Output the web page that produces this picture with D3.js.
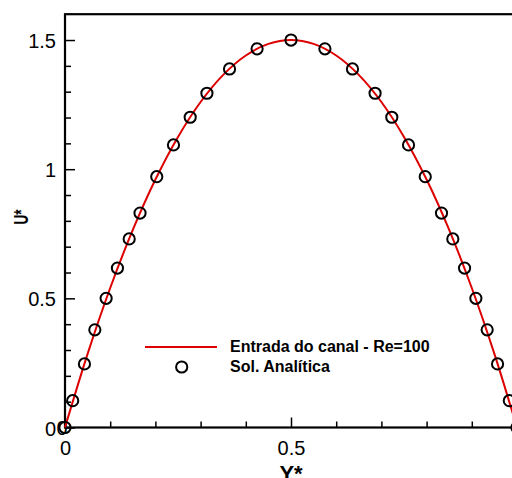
<!DOCTYPE html>
<html>
<head>
<meta charset="utf-8">
<script src="https://cdn.jsdelivr.net/npm/d3@7"></script>
<style>
  body { margin: 0; background: #fff; }
  svg { display: block; font-family: "Liberation Sans", Arial, sans-serif; }
</style>
</head>
<body>
<div id="chart"></div>
<script>
// Sol. Analítica - circles (Y*, U*)
const yAnalytic = [0, 0.017, 0.043, 0.066, 0.091, 0.116, 0.142, 0.166, 0.203, 0.240, 0.277, 0.314, 0.364, 0.425, 0.5,
                   0.575, 0.636, 0.686, 0.723, 0.760, 0.797, 0.833, 0.858, 0.884, 0.909, 0.934, 0.957, 0.983, 1];
const uAnalytic = [0, 0.104, 0.246, 0.378, 0.500, 0.617, 0.730, 0.830, 0.971, 1.094, 1.201, 1.294, 1.388, 1.466, 1.5,
                   1.466, 1.388, 1.294, 1.201, 1.094, 0.971, 0.830, 0.730, 0.617, 0.500, 0.378, 0.246, 0.104, 0];

// Entrada do canal - Re=100 - red line
const yLine = [0, 0.05, 0.1, 0.15, 0.2, 0.25, 0.3, 0.35, 0.4, 0.45, 0.5, 0.55, 0.6, 0.65, 0.7, 0.75, 0.8, 0.85, 0.9, 0.95, 1];
const uLine = [0, 0.285, 0.54, 0.765, 0.96, 1.125, 1.26, 1.365, 1.44, 1.485, 1.5, 1.485, 1.44, 1.365, 1.26, 1.125, 0.96, 0.765, 0.54, 0.285, 0];

// x = 1 sits just past the right edge of the picture, so only 0 and 0.5 are labelled
const xTicks = [0, 0.5];
const yTicks = [0, 0.5, 1, 1.5];
const xMinor = [0.1, 0.2, 0.3, 0.4, 0.6, 0.7, 0.8, 0.9];
const yMinor = [0.1, 0.2, 0.3, 0.4, 0.6, 0.7, 0.8, 0.9, 1.1, 1.2, 1.3, 1.4];
const seriesNames = ["Entrada do canal - Re=100", "Sol. Analítica"];

const width = 512, height = 478;
const red = "#dd0000";

const svg = d3.select("#chart").append("svg")
    .attr("width", width)
    .attr("height", height);

// plot area runs past the right edge of the picture, as in the original
const x = d3.scaleLinear().domain([0, 1]).range([65, 517]);
const y = d3.scaleLinear().domain([0, 1.6]).range([427.5, 14.2]);

// minor ticks
svg.append("g")
    .attr("transform", `translate(0,${y(0)})`)
    .call(d3.axisBottom(x).tickValues(xMinor).tickSizeInner(-6).tickSizeOuter(0).tickFormat(""))
    .call(g => g.select(".domain").remove())
    .call(g => g.selectAll("line").attr("stroke-width", 1.5));

svg.append("g")
    .attr("transform", `translate(${x(0)},0)`)
    .call(d3.axisLeft(y).tickValues(yMinor).tickSizeInner(-6).tickSizeOuter(0).tickFormat(""))
    .call(g => g.select(".domain").remove())
    .call(g => g.selectAll("line").attr("stroke-width", 1.5));

// major ticks with labels
svg.append("g")
    .attr("transform", `translate(0,${y(0)})`)
    .call(d3.axisBottom(x).tickValues(xTicks).tickSizeInner(-10).tickSizeOuter(0).tickPadding(13).tickFormat(d3.format("")))
    .call(g => g.select(".domain").remove())
    .call(g => g.selectAll("line").attr("stroke-width", 1.5))
    .call(g => g.selectAll("text").attr("font-size", 20).attr("fill", "#000").attr("font-family", null));

svg.append("g")
    .attr("transform", `translate(${x(0)},0)`)
    .call(d3.axisLeft(y).tickValues(yTicks).tickSizeInner(-10).tickSizeOuter(0).tickPadding(9).tickFormat(d3.format("")))
    .call(g => g.select(".domain").remove())
    .call(g => g.selectAll("line").attr("stroke-width", 1.5))
    .call(g => g.selectAll("text").attr("font-size", 20).attr("dy", "0.38em").attr("fill", "#000").attr("font-family", null));

// extra origin label (appears as "00" in the original)
svg.append("text")
    .attr("x", x(0) - 8.5)
    .attr("y", y(0))
    .attr("dy", "0.38em")
    .attr("font-size", 20)
    .text("0");

// frame
svg.append("rect")
    .attr("x", x(0))
    .attr("y", y(1.6))
    .attr("width", x(1) - x(0))
    .attr("height", y(0) - y(1.6))
    .attr("fill", "none")
    .attr("stroke", "#000")
    .attr("stroke-width", 2.2);

// red line
const lineData = yLine.map((v, i) => [v, uLine[i]]);
svg.append("path")
    .datum(lineData)
    .attr("fill", "none")
    .attr("stroke", red)
    .attr("stroke-width", 2)
    .attr("d", d3.line().x(d => x(d[0])).y(d => y(d[1])).curve(d3.curveCatmullRom));

// analytical circles
const ptData = yAnalytic.map((v, i) => [v, uAnalytic[i]]);
svg.append("g").selectAll("circle")
    .data(ptData)
    .join("circle")
    .attr("cx", d => x(d[0]))
    .attr("cy", d => y(d[1]))
    .attr("r", 5.6)
    .attr("fill", "none")
    .attr("stroke", "#000")
    .attr("stroke-width", 2);

// axis titles (the x title is cut by the bottom edge in the original)
svg.append("text")
    .attr("x", 291)
    .attr("y", 481)
    .attr("text-anchor", "middle")
    .attr("font-size", 22)
    .attr("font-weight", "bold")
    .text("Y*");

svg.append("text")
    .attr("transform", "translate(28,217) rotate(-90)")
    .attr("text-anchor", "middle")
    .attr("font-size", 20)
    .attr("font-weight", "bold")
    .attr("textLength", 15)
    .attr("lengthAdjust", "spacingAndGlyphs")
    .text("U*");

// legend
const legend = svg.append("g").attr("transform", "translate(145,347)");
legend.append("line")
    .attr("x1", 0).attr("x2", 72)
    .attr("y1", 0).attr("y2", 0)
    .attr("stroke", red)
    .attr("stroke-width", 2);
legend.append("circle")
    .attr("cx", 36.7).attr("cy", 20)
    .attr("r", 5.6)
    .attr("fill", "none")
    .attr("stroke", "#000")
    .attr("stroke-width", 2);
seriesNames.forEach((name, i) => {
    legend.append("text")
        .attr("x", 85)
        .attr("y", 4.7 + i * 20)
        .attr("font-size", 16)
        .attr("font-weight", "bold")
        .text(name);
});
</script>
</body>
</html>
